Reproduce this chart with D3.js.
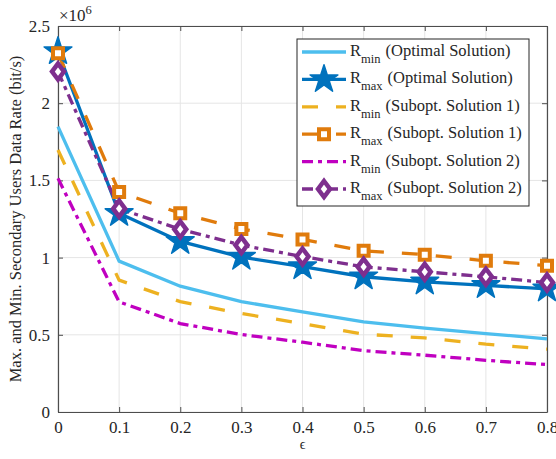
<!DOCTYPE html>
<html lang="en">
<head>
    <meta charset="UTF-8">
    <title>Secondary Users Data Rate</title>
    <script src="https://cdnjs.cloudflare.com/ajax/libs/d3/7.8.5/d3.min.js"></script>
    <style>
        body {
            margin: 0;
            background-color: white;
        }
        svg text {
            fill: #262626;
            font-family: "Liberation Serif", Tinos, "Times New Roman", "DejaVu Serif", serif;
        }
    </style>
</head>
<body>
    <div id="chart"></div>

    <script>
        // Data (rates in units of 1e6 bit/s)
        const epsilon = [0, 0.1, 0.2, 0.3, 0.4, 0.5, 0.6, 0.7, 0.8];
        const rminOpt = [1.848, 0.977, 0.815, 0.715, 0.648, 0.584, 0.543, 0.508, 0.474];
        const rmaxOpt = [2.335, 1.287, 1.105, 1.003, 0.942, 0.876, 0.843, 0.82, 0.798];
        const rminSub1 = [1.697, 0.854, 0.715, 0.638, 0.573, 0.504, 0.48, 0.439, 0.407];
        const rmaxSub1 = [2.324, 1.425, 1.287, 1.185, 1.118, 1.044, 1.019, 0.979, 0.948];
        const rminSub2 = [1.513, 0.713, 0.573, 0.502, 0.452, 0.397, 0.368, 0.335, 0.307];
        const rmaxSub2 = [2.205, 1.317, 1.183, 1.081, 1.007, 0.94, 0.908, 0.876, 0.838];

        const xTicks = [0, 0.1, 0.2, 0.3, 0.4, 0.5, 0.6, 0.7, 0.8];
        const yTicks = [0, 0.5, 1, 1.5, 2, 2.5];

        const series = [
            {sub: "min", name: "(Optimal Solution)", values: rminOpt, color: "#4DBEEE", dash: null, marker: null},
            {sub: "max", name: "(Optimal Solution)", values: rmaxOpt, color: "#0072BD", dash: null, marker: "star"},
            {sub: "min", name: "(Subopt. Solution 1)", values: rminSub1, color: "#EDB120", dash: "16,18", marker: null},
            {sub: "max", name: "(Subopt. Solution 1)", values: rmaxSub1, color: "#E07B0C", dash: "16,18", marker: "square"},
            {sub: "min", name: "(Subopt. Solution 2)", values: rminSub2, color: "#C000C0", dash: "11,5,4,5", marker: null},
            {sub: "max", name: "(Subopt. Solution 2)", values: rmaxSub2, color: "#7E2F8E", dash: "11,5,4,5", marker: "diamond"}
        ];

        const W = 556, H = 459;
        const margin = {top: 26, right: 9, bottom: 47, left: 58};
        const width = W - margin.left - margin.right;
        const height = H - margin.top - margin.bottom;

        const svg = d3.select("#chart")
            .append("svg")
                .attr("width", W)
                .attr("height", H);

        const g = svg.append("g")
            .attr("transform", `translate(${margin.left},${margin.top})`);

        const x = d3.scaleLinear().domain([0, 0.8]).range([0, width]);
        const y = d3.scaleLinear().domain([0, 2.5]).range([height, 0]);

        // Grid
        g.append("g")
            .selectAll("line")
            .data(xTicks)
            .join("line")
                .attr("x1", d => x(d)).attr("x2", d => x(d))
                .attr("y1", 0).attr("y2", height)
                .attr("stroke", "#e5e5e5").attr("stroke-width", 1);
        g.append("g")
            .selectAll("line")
            .data(yTicks)
            .join("line")
                .attr("x1", 0).attr("x2", width)
                .attr("y1", d => y(d)).attr("y2", d => y(d))
                .attr("stroke", "#e5e5e5").attr("stroke-width", 1);

        // Axes (ticks point inward, box on)
        const axisColor = "#4d4d4d";
        const styleAxis = sel => {
            sel.attr("font-family", null).attr("font-size", null);
            sel.select(".domain").attr("stroke", axisColor).attr("stroke-width", 1.2);
            sel.selectAll(".tick line").attr("stroke", axisColor);
            sel.selectAll(".tick text")
                .style("font-size", "17px")
                .attr("fill", "#262626");
        };

        g.append("g")
            .attr("transform", `translate(0,${height})`)
            .call(d3.axisBottom(x).tickValues(xTicks).tickFormat(d3.format("")).tickSizeInner(-5).tickSizeOuter(0).tickPadding(9))
            .call(styleAxis);
        g.append("g")
            .call(d3.axisLeft(y).tickValues(yTicks).tickFormat(d3.format("")).tickSizeInner(-5).tickSizeOuter(0).tickPadding(8))
            .call(styleAxis);
        g.append("g")
            .call(d3.axisTop(x).tickValues(xTicks).tickFormat("").tickSizeInner(-5).tickSizeOuter(0))
            .call(styleAxis);
        g.append("g")
            .attr("transform", `translate(${width},0)`)
            .call(d3.axisRight(y).tickValues(yTicks).tickFormat("").tickSizeInner(-5).tickSizeOuter(0))
            .call(styleAxis);

        // Lines
        const line = d3.line()
            .x((d, i) => x(epsilon[i]))
            .y(d => y(d));

        const markerPath = (type) => {
            if (type === "star") return d3.symbol(d3.symbolStar, 240)();
            if (type === "square") return d3.symbol(d3.symbolSquare, 100)();
            if (type === "diamond") return "M0,-8L6,0L0,8L-6,0Z";
            return null;
        };

        const drawMarker = (sel, s) => {
            if (s.marker === "star") {
                sel.attr("d", markerPath("star"))
                    .attr("fill", s.color)
                    .attr("stroke", s.color)
                    .attr("stroke-width", 1.5)
                    .attr("stroke-linejoin", "round");
            } else {
                sel.attr("d", markerPath(s.marker))
                    .attr("fill", "white")
                    .attr("stroke", s.color)
                    .attr("stroke-width", s.marker === "diamond" ? 4.5 : 4);
            }
        };

        series.forEach(s => {
            g.append("path")
                .datum(s.values)
                .attr("fill", "none")
                .attr("stroke", s.color)
                .attr("stroke-width", 3.3)
                .attr("stroke-dasharray", s.dash)
                .attr("d", line);
        });
        series.forEach(s => {
            if (!s.marker) return;
            g.append("g")
                .selectAll("path")
                .data(s.values)
                .join("path")
                    .attr("transform", (d, i) => `translate(${x(epsilon[i])},${y(d)})`)
                    .call(drawMarker, s);
        });

        // Exponent label
        svg.append("text")
            .attr("x", margin.left + 1)
            .attr("y", 21)
            .style("font-size", "17px")
            .html("×10<tspan dy='-7' font-size='12.5px'>6</tspan>");

        // Axis labels
        svg.append("text")
            .attr("x", margin.left + x(0.4))
            .attr("y", 449)
            .attr("text-anchor", "middle")
            .style("font-size", "14px")
            .text("ϵ");

        svg.append("text")
            .attr("transform", `translate(21,${margin.top + height / 2}) rotate(-90)`)
            .attr("text-anchor", "middle")
            .style("font-size", "16.5px")
            .text("Max. and Min. Secondary Users Data Rate (bit/s)");

        // Legend
        const legend = svg.append("g").attr("transform", "translate(297,39)");
        legend.append("rect")
            .attr("width", 232)
            .attr("height", 167)
            .attr("fill", "white")
            .attr("stroke", "#262626")
            .attr("stroke-width", 1);

        series.forEach((s, i) => {
            const row = legend.append("g").attr("transform", `translate(0,${13 + i * 27.4})`);
            row.append("line")
                .attr("x1", 5).attr("x2", 49)
                .attr("y1", 0).attr("y2", 0)
                .attr("stroke", s.color)
                .attr("stroke-width", 3.3)
                .attr("stroke-dasharray", s.dash);
            if (s.marker) {
                row.append("path")
                    .attr("transform", "translate(27,0)")
                    .call(drawMarker, s);
            }
            const t = row.append("text")
                .attr("x", 53)
                .attr("y", 4)
                .style("font-size", "16.5px");
            t.append("tspan").text("R");
            t.append("tspan").attr("dy", 7).style("font-size", "12.5px").text(s.sub);
            t.append("tspan").attr("dy", -7).attr("dx", 5).text(s.name);
        });
    </script>
</body>
</html>
